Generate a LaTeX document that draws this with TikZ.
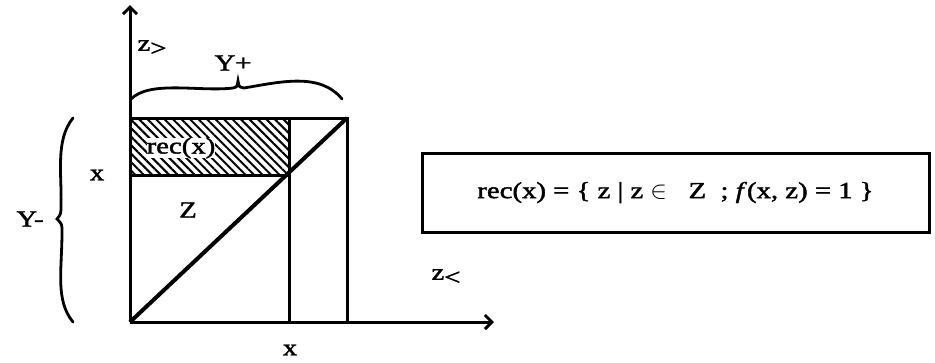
\documentclass[tikz,border=0pt]{standalone}
\usepackage{fontspec}
\setmainfont[FakeStretch=1.25,FakeBold=1.8]{Liberation Serif}
\usetikzlibrary{arrows.meta,patterns.meta}
\tikzset{
  thick line/.style={line width=3pt},
  axis/.style={line width=3pt,-{Straight Barb[length=7pt,width=14pt,line width=3pt]}},
  lbl/.style={font=\fontsize{23}{27}\selectfont, inner sep=1pt},
  bracestyle/.style={line width=2.8pt, line cap=round},
  hatch/.style={pattern={Lines[angle=-45,distance=6pt,line width=2pt]}},
}
\begin{document}
\begin{tikzpicture}[x=1pt,y=-1pt]
\useasboundingbox (0,0) rectangle (935,362);
% key points
\coordinate (O) at (130,322);
\coordinate (Ytop) at (130,5);
\coordinate (Xend) at (494,322);
\coordinate (TL) at (130,118);
\coordinate (TR) at (347,118);
\coordinate (BR) at (347,322);
\coordinate (M) at (289,175);
\coordinate (MT) at (289,118);
\coordinate (MB) at (289,322);
\coordinate (ML) at (130,175);
% hatched band
\fill[hatch] (TL) rectangle (M);
\node[lbl, fill=white, inner sep=0pt] (rec) at (181,148) {rec(x)};
% rectangle and lines
\draw[thick line] (TL) -- (TR) -- (BR);
\draw[thick line] (ML) -- (M);
\draw[thick line] (MT) -- (MB);
\draw[line width=4pt] (O) -- (TR);
% axes
\draw[axis] (O) -- (Ytop);
\draw[axis] (O) -- (Xend);
% labels
\node[lbl] (zgt) at (152,48) {z\raisebox{-5pt}{>}};
\node[lbl] (Yplus) at (233,63) {Y+};
\node[lbl] (Z) at (188,210) {Z};
\node[lbl] (xleft) at (97,175) {x};
\node[lbl] (xbot) at (290,350) {x};
\node[lbl] (zlt) at (446,277) {z\raisebox{-5pt}{<}};
\node[lbl] (Yminus) at (30,219) {Y-};
% top brace
\draw[bracestyle] (131,99) .. controls (150,80) and (200,92) .. (233,88)
  .. controls (237,87) .. (238,81) .. controls (239,87) .. (244,88)
  .. controls (280,82) and (320,72) .. (342,99);
% left brace
\draw[bracestyle] (73,118) .. controls (55,140) and (62,175) .. (61,205)
  .. controls (61,214) .. (57,219) .. controls (62,224) .. (62,232)
  .. controls (62,270) and (55,300) .. (73,322);
% formula box
\node[lbl, draw, line width=3pt, minimum width=507pt, minimum height=79pt] (box) at (675.5,192.5)
  {rec(x) = \{ z | z $\in$ \ \ Z \ ; \textit{f}(x, z) = 1 \}};
\end{tikzpicture}
\end{document}
